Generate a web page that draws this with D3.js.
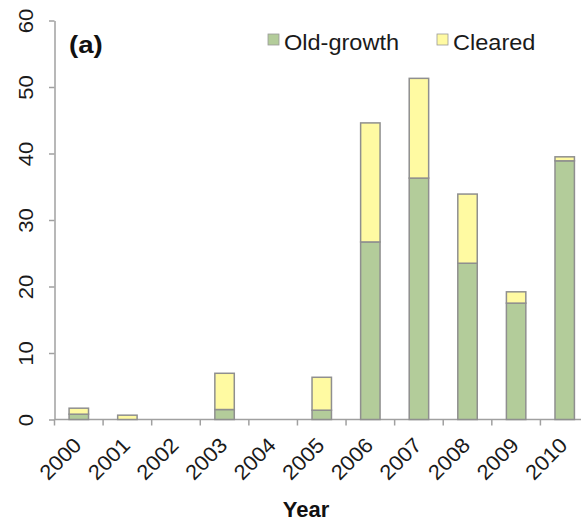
<!DOCTYPE html>
<html>
<head>
<meta charset="utf-8">
<script src="https://cdn.jsdelivr.net/npm/d3@7/dist/d3.min.js"></script>
<style>
  html, body { margin: 0; padding: 0; background: #fff; }
  svg { display: block; font-family: "Liberation Sans", Arial, Helvetica, sans-serif; }
</style>
</head>
<body>
<svg id="chart" width="581" height="522"></svg>
<script>
// Annual area by forest type
const years = ["2000","2001","2002","2003","2004","2005","2006","2007","2008","2009","2010"];
const oldGrowth = [0.8, 0, 0, 1.5, 0, 1.4, 26.7, 36.3, 23.5, 17.5, 38.9];
const cleared   = [0.9, 0.65, 0, 5.45, 0, 4.95, 17.9, 15.0, 10.4, 1.7, 0.6];
const seriesNames = ["Old-growth", "Cleared"];
const seriesColors = ["#b3cc9a", "#fffaa2"];
const yTicks = [0, 10, 20, 30, 40, 50, 60];

const svg = d3.select("#chart");
const plotLeft = 54.5, plotRight = 589, plotTop = 20.5, plotBottom = 419.5;

const x = d3.scaleBand().domain(years).range([plotLeft, plotRight]).paddingInner(0.6).paddingOuter(0.3);
const y = d3.scaleLinear().domain([0, 60]).range([plotBottom, plotTop]);

const rows = years.map((yr, i) => ({ year: yr, "Old-growth": oldGrowth[i], "Cleared": cleared[i] }));
const stacked = d3.stack().keys(seriesNames)(rows);

// Y axis
const yAxis = svg.append("g").attr("transform", `translate(${plotLeft},0)`)
  .call(d3.axisLeft(y).tickValues(yTicks).tickSize(5.5).tickSizeOuter(0).tickFormat(d3.format("d")));
yAxis.select(".domain").attr("stroke", "#a0a0a0").attr("stroke-width", 1.5);
yAxis.selectAll(".tick line").attr("stroke", "#a0a0a0").attr("stroke-width", 1.5);
yAxis.selectAll(".tick text")
  .attr("x", null).attr("dy", null)
  .attr("transform", "translate(-21.5,0) rotate(-90) scale(1.05,1)")
  .attr("text-anchor", "middle")
  .attr("font-size", 21)
  .attr("fill", "#1a1a1a");

// X axis with ticks between categories
const xAxisG = svg.append("g").attr("transform", `translate(0,${plotBottom})`);
xAxisG.append("line").attr("x1", plotLeft).attr("x2", plotRight).attr("y1", 0).attr("y2", 0)
  .attr("stroke", "#a0a0a0").attr("stroke-width", 1.5);
const step = x.step();
const boundaries = d3.range(years.length + 1).map(i => x(years[0]) - x.paddingInner() * step / 2 + i * step);
xAxisG.selectAll("line.tk").data(boundaries).join("line").attr("class", "tk")
  .attr("x1", d => d).attr("x2", d => d).attr("y1", 0).attr("y2", 6)
  .attr("stroke", "#a0a0a0").attr("stroke-width", 1.5);
xAxisG.selectAll("text").data(years).join("text")
  .attr("transform", d => `translate(${x(d) + x.bandwidth() / 2 + 4},27) rotate(-45) scale(1.05,1)`)
  .attr("text-anchor", "end")
  .attr("font-size", 21)
  .attr("fill", "#1a1a1a")
  .text(d => d);

// Stacked bars
stacked.forEach((layer, li) => {
  svg.append("g").selectAll("rect")
    .data(layer.filter(d => d[1] - d[0] > 0))
    .join("rect")
    .attr("x", d => x(d.data.year))
    .attr("width", x.bandwidth())
    .attr("y", d => y(d[1]))
    .attr("height", d => y(d[0]) - y(d[1]))
    .attr("fill", seriesColors[li])
    .attr("stroke", "#8f8f8f")
    .attr("stroke-width", 1.5);
});

// Axis title
svg.append("text").attr("x", 306).attr("y", 517).attr("text-anchor", "middle")
  .attr("font-size", 22).attr("font-weight", "bold").attr("fill", "#111").text("Year");

// Panel label
svg.append("text").attr("transform", "translate(69,53) scale(1.15,1)").attr("font-size", 24)
  .attr("font-weight", "bold").attr("fill", "#111").text("(a)");

// Legend
const legendX = [268, 437];
const lg = svg.append("g");
seriesNames.forEach((name, i) => {
  lg.append("rect").attr("x", legendX[i]).attr("y", 34).attr("width", 11).attr("height", 11)
    .attr("fill", seriesColors[i]).attr("stroke", "#9a9a9a").attr("stroke-width", 0.8);
  lg.append("text").attr("transform", `translate(${legendX[i] + 16},50) scale(1.07,1)`)
    .attr("font-size", 22).attr("fill", "#1a1a1a").text(name);
});
</script>
</body>
</html>
